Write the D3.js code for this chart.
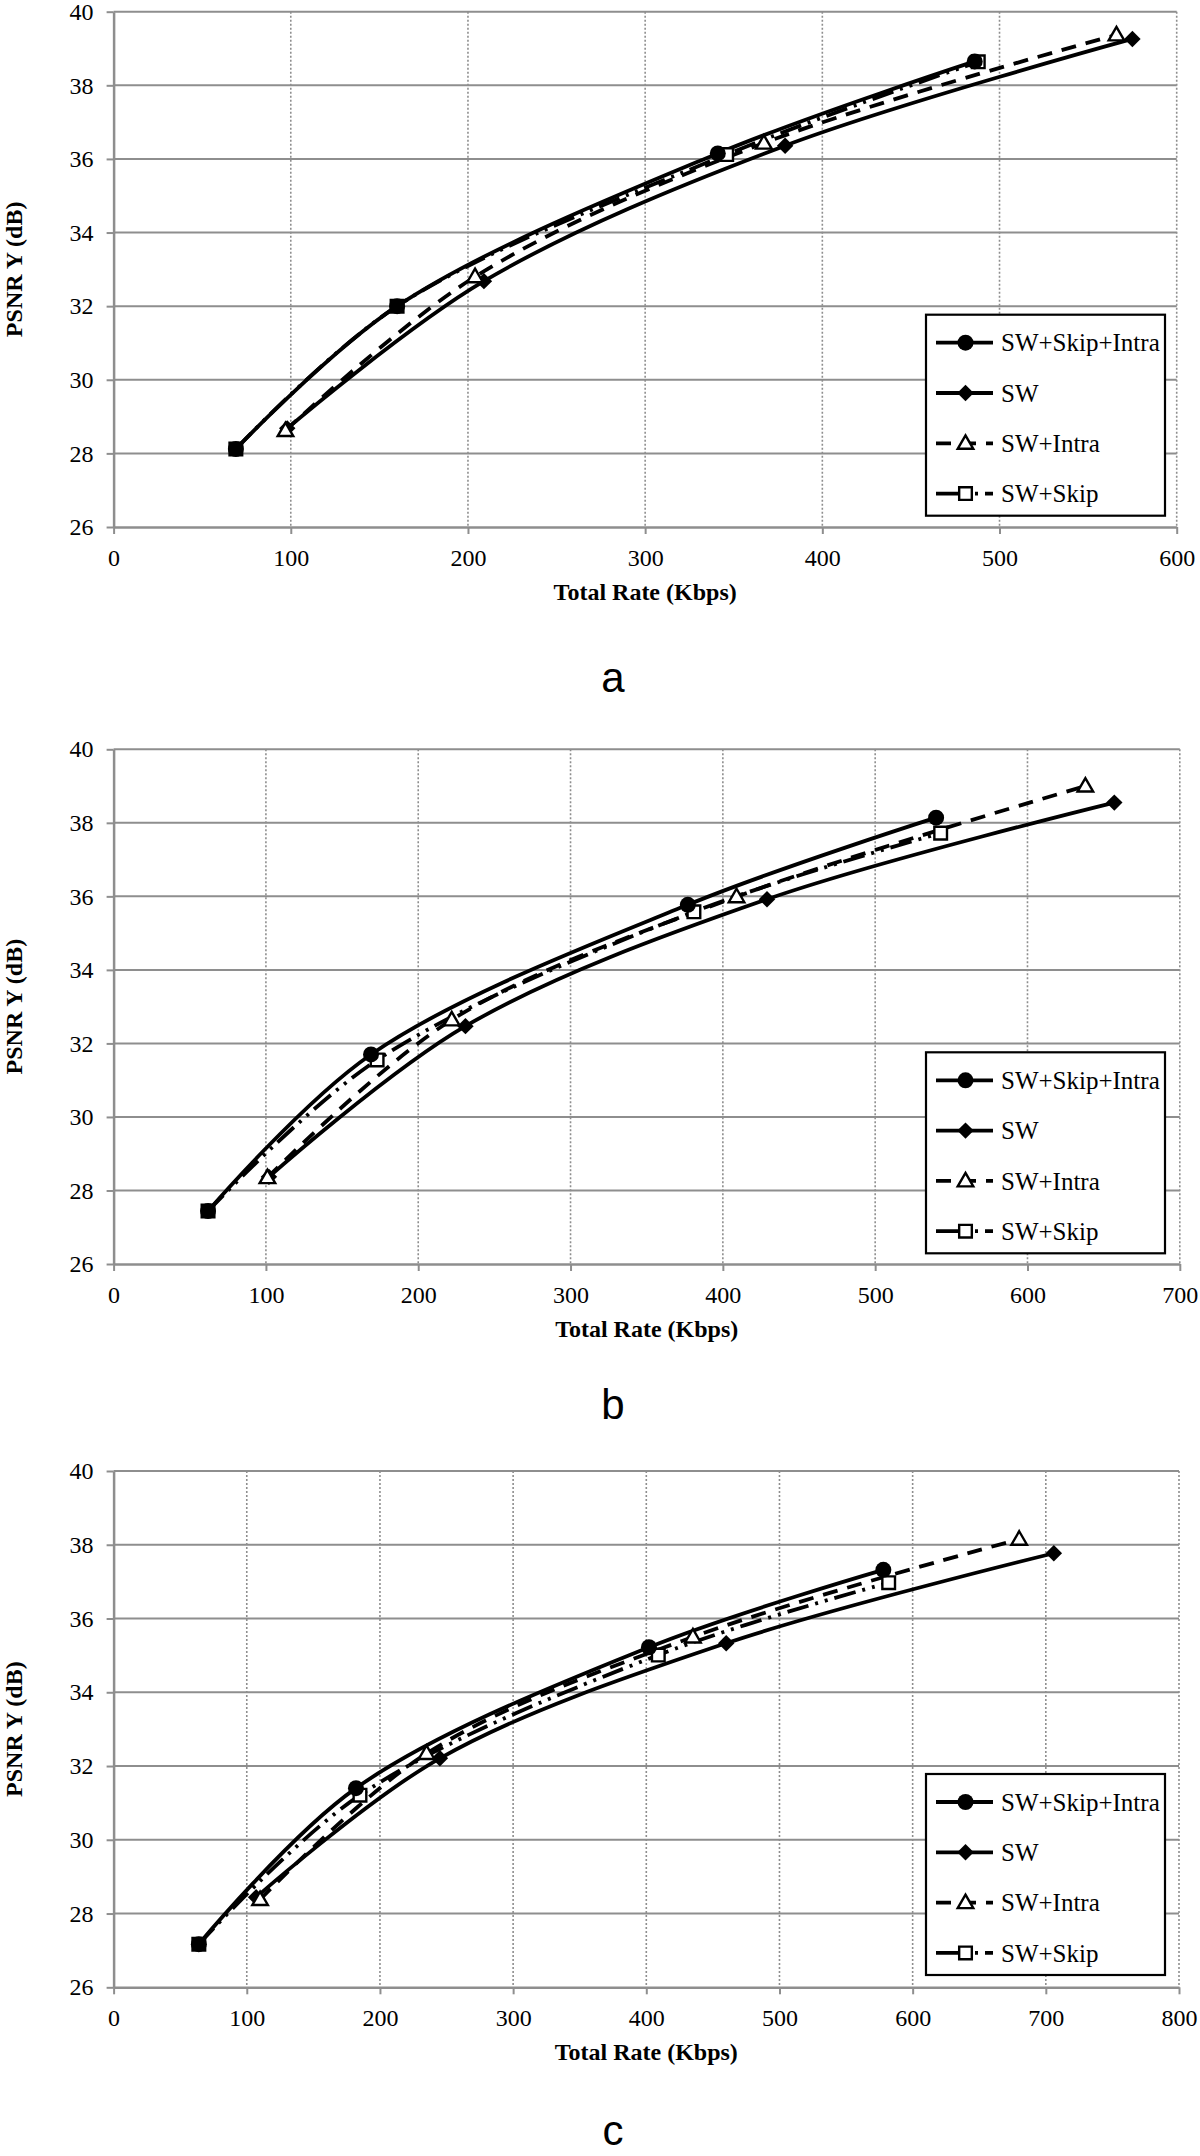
<!DOCTYPE html>
<html>
<head>
<meta charset="utf-8">
<script src="https://cdn.jsdelivr.net/npm/d3@7"></script>
<style>
  body { margin: 0; background: #fff; }
  svg { display: block; }
</style>
</head>
<body>
<svg width="1200" height="2156"></svg>
<script>
// series names, legend order
const seriesNames = ["SW+Skip+Intra", "SW", "SW+Intra", "SW+Skip"];
const yTicks = [26, 28, 30, 32, 34, 36, 38, 40];

// panel a
const aRateSSI = [69, 160, 341, 486];
const aPsnrSSI = [28.12, 32.0, 36.15, 38.65];
const aRateSW  = [98, 209, 379, 575];
const aPsnrSW  = [28.68, 32.68, 36.36, 39.26];
const aRateSI  = [97, 204, 367, 566];
const aPsnrSI  = [28.62, 32.8, 36.43, 39.37];
const aRateSS  = [69, 160, 346, 488];
const aPsnrSS  = [28.12, 32.0, 36.12, 38.64];

// panel b
const bRateSSI = [62, 169, 377, 540];
const bPsnrSSI = [27.44, 31.7, 35.77, 38.14];
const bRateSW  = [102, 231, 429, 657];
const bPsnrSW  = [28.37, 32.47, 35.92, 38.55];
const bRateSI  = [101, 222, 409, 638];
const bPsnrSI  = [28.35, 32.64, 35.99, 39.0];
const bRateSS  = [62, 173, 381, 543];
const bPsnrSS  = [27.44, 31.55, 35.58, 37.72];

// panel c
const cRateSSI = [64, 182, 402, 578];
const cPsnrSSI = [27.17, 31.4, 35.22, 37.32];
const cRateSW  = [107, 245, 460, 706];
const cPsnrSW  = [28.44, 32.21, 35.33, 37.77];
const cRateSI  = [110, 235, 435, 680];
const cPsnrSI  = [28.38, 32.34, 35.5, 38.15];
const cRateSS  = [64, 185, 409, 582];
const cPsnrSS  = [27.17, 31.21, 35.01, 36.97];

const xMaxA = 600, xMaxB = 700, xMaxC = 800;

const zip = (xs, ys) => xs.map((x, i) => ({x: x, y: ys[i]}));

const panels = [
  {cap: "a", xMax: xMaxA, left: 113.6, right: 1176.7, top: 11.7, bottom: 527, titleY: 600, capY: 692,
   data: [zip(aRateSSI, aPsnrSSI), zip(aRateSW, aPsnrSW), zip(aRateSI, aPsnrSI), zip(aRateSS, aPsnrSS)]},
  {cap: "b", xMax: xMaxB, left: 113.6, right: 1179.8, top: 749.3, bottom: 1264, titleY: 1337, capY: 1419,
   data: [zip(bRateSSI, bPsnrSSI), zip(bRateSW, bPsnrSW), zip(bRateSI, bPsnrSI), zip(bRateSS, bPsnrSS)]},
  {cap: "c", xMax: xMaxC, left: 113.6, right: 1179, top: 1471, bottom: 1987.3, titleY: 2060, capY: 2145,
   data: [zip(cRateSSI, cPsnrSSI), zip(cRateSW, cPsnrSW), zip(cRateSI, cPsnrSI), zip(cRateSS, cPsnrSS)]}
];

// line / marker styles per series
const dashes = [null, null, "15,10", "22,7,3,7,3,7"];
const markerType = ["circle", "diamond", "triangle", "square"];

const gridColor = "#8e8e8e";
const serif = "Liberation Serif, Times New Roman, serif";

const svg = d3.select("svg");

function drawMarker(g, type, x, y) {
  if (type === "circle") {
    g.append("circle").attr("cx", x).attr("cy", y).attr("r", 8).attr("fill", "#000");
  } else if (type === "diamond") {
    g.append("path").attr("d", d3.symbol().type(d3.symbolSquare).size(135)())
      .attr("transform", "translate(" + x + "," + y + ") rotate(45)")
      .attr("fill", "#000");
  } else if (type === "triangle") {
    g.append("path").attr("d", d3.symbol().type(d3.symbolTriangle).size(105)())
      .attr("transform", "translate(" + x + "," + (y + 1) + ")")
      .attr("fill", "#fff").attr("stroke", "#000").attr("stroke-width", 2.4);
  } else {
    g.append("path").attr("d", d3.symbol().type(d3.symbolSquare).size(160)())
      .attr("transform", "translate(" + x + "," + y + ")")
      .attr("fill", "#fff").attr("stroke", "#000").attr("stroke-width", 2.4);
  }
}

panels.forEach(p => {
  const x = d3.scaleLinear().domain([0, p.xMax]).range([p.left, p.right]);
  const y = d3.scaleLinear().domain([26, 40]).range([p.bottom, p.top]);
  const g = svg.append("g");

  // horizontal grid (solid)
  g.append("g").selectAll("line").data(yTicks.filter(t => t > 26)).enter().append("line")
    .attr("x1", p.left).attr("x2", p.right)
    .attr("y1", d => y(d)).attr("y2", d => y(d))
    .attr("stroke", gridColor).attr("stroke-width", 2);

  // vertical grid (dotted)
  g.append("g").selectAll("line").data(x.ticks(p.xMax / 100).filter(t => t > 0)).enter().append("line")
    .attr("x1", d => x(d)).attr("x2", d => x(d))
    .attr("y1", p.top).attr("y2", p.bottom)
    .attr("stroke", gridColor).attr("stroke-width", 1.6).attr("stroke-dasharray", "2,2");

  // axes
  const xAxis = g.append("g").attr("transform", "translate(0," + p.bottom + ")")
    .call(d3.axisBottom(x).ticks(p.xMax / 100).tickSizeInner(7).tickSizeOuter(0).tickPadding(15));
  const yAxis = g.append("g").attr("transform", "translate(" + p.left + ",0)")
    .call(d3.axisLeft(y).tickValues(yTicks).tickSizeInner(7).tickSizeOuter(0).tickPadding(13));
  [xAxis, yAxis].forEach(ax => {
    ax.attr("font-family", serif).attr("font-size", 24);
    ax.select(".domain").attr("stroke", gridColor).attr("stroke-width", 2.5);
    ax.selectAll(".tick line").attr("stroke", gridColor).attr("stroke-width", 2);
    ax.selectAll(".tick text").style("font-family", serif).attr("fill", "#000");
  });

  // axis titles
  g.append("text").attr("x", (p.left + p.right) / 2).attr("y", p.titleY)
    .attr("text-anchor", "middle").style("font-family", serif).attr("font-weight", "bold")
    .attr("font-size", 24).text("Total Rate (Kbps)");
  g.append("text")
    .attr("transform", "translate(22," + ((p.top + p.bottom) / 2) + ") rotate(-90)")
    .attr("text-anchor", "middle").style("font-family", serif).attr("font-weight", "bold")
    .attr("font-size", 24).text("PSNR Y (dB)");

  // curves
  const line = d3.line().x(d => x(d.x)).y(d => y(d.y)).curve(d3.curveCatmullRom.alpha(0.5));
  const order = [1, 2, 3, 0];
  order.forEach(i => {
    g.append("path").attr("d", line(p.data[i]))
      .attr("fill", "none").attr("stroke", "#000").attr("stroke-width", 3.8)
      .attr("stroke-dasharray", dashes[i]);
  });
  order.forEach(i => {
    p.data[i].forEach(d => drawMarker(g, markerType[i], x(d.x), y(d.y)));
  });

  // legend
  const lx = 926, ly = p.top + 303, lw = 239, lh = 201;
  const lg = g.append("g");
  lg.append("rect").attr("x", lx).attr("y", ly).attr("width", lw).attr("height", lh)
    .attr("fill", "#fff").attr("stroke", "#000").attr("stroke-width", 2.2);
  seriesNames.forEach((name, i) => {
    const cy = ly + 28 + i * 50.3;
    lg.append("line").attr("x1", lx + 10).attr("x2", lx + 67).attr("y1", cy).attr("y2", cy)
      .attr("stroke", "#000").attr("stroke-width", 3.8).attr("stroke-dasharray", dashes[i]);
    drawMarker(lg, markerType[i], lx + 39.5, cy);
    lg.append("text").attr("x", lx + 75).attr("y", cy).attr("dy", "0.35em")
      .style("font-family", serif).attr("font-size", 25).text(name);
  });

  // sub-caption
  g.append("text").attr("x", 613).attr("y", p.capY).attr("text-anchor", "middle")
    .style("font-family", "Liberation Sans, Arial, sans-serif").attr("font-size", 42).text(p.cap);
});
</script>
</body>
</html>
